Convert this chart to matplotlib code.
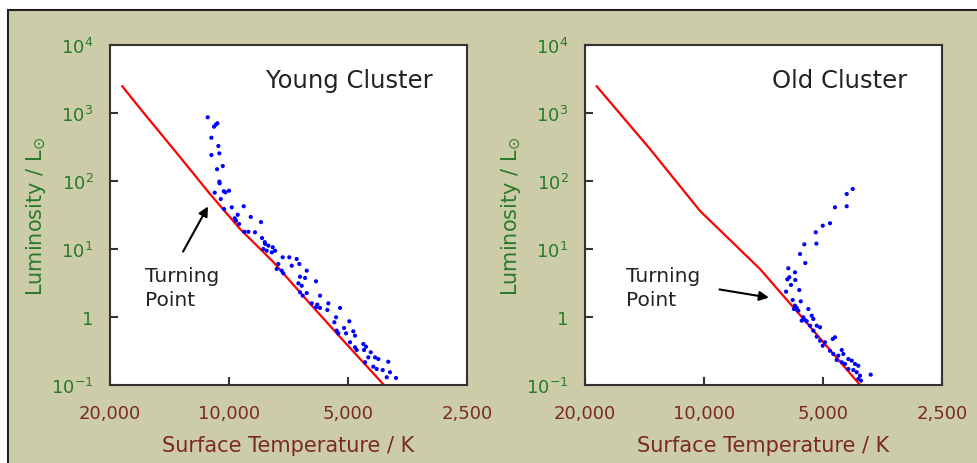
import matplotlib
matplotlib.use("Agg")
import matplotlib.pyplot as plt
from matplotlib.patches import Rectangle

# main-sequence lines (temperature K, luminosity L_sun)
young_line_temp = [18620, 16480, 13560, 11170, 9378, 7726, 6360, 5238, 4055]
young_line_lum = [2470, 1023, 258, 64.4, 19.7, 6.44, 1.78, 0.508, 0.1]

old_line_temp = [18680, 13700, 10230, 7216, 5716, 4030]
old_line_lum = [2470, 296, 36.2, 5.08, 1.07, 0.1]

# cluster stars
young_star_temp = [11320, 10910, 10800, 10700, 11080, 10640, 11080, 10580, 10370, 10720,
                   10580, 10560, 10870, 10310, 10210, 10000, 10490, 10290, 9840, 9180,
                   9505, 9670, 8810, 9600, 9430, 8300, 9145, 8935, 8595, 8250,
                   8120, 7950, 7750, 7645, 8190, 8105, 7795, 8030,
                   7315, 7040, 6742, 7505, 6940, 6640, 7575, 7357, 7290, 6360,
                   6612, 6420, 6025, 6676, 6546, 6612, 6360, 6510, 5885, 6176,
                   5980, 6025, 5607, 5885, 5640, 5237, 5360, 5414, 5117, 4962,
                   5340, 5290, 5057, 4848, 4800, 4941, 4800, 4753, 4573, 4502,
                   4554, 4380, 4442, 4272, 4191, 4528, 4314, 4230, 4085, 3954,
                   3915, 3990, 3780]
young_star_lum = [865, 629, 673, 706, 433, 327, 241, 255, 166, 149,
                  98, 92.5, 67.3, 70.6, 68.2, 72, 54.3, 38.7, 41, 42.5,
                  31.9, 28.3, 29.6, 26.1, 23.3, 24.9, 17.9, 17.9, 17.6, 14.5,
                  12.6, 11.2, 10.6, 9.44, 10, 11.9, 8.9, 9.44,
                  7.55, 7.55, 7.13, 6.02, 5.68, 6.02, 5.08, 4.80, 4.39, 4.80,
                  3.91, 3.75, 3.35, 3.13, 2.88, 2.31, 2.25, 2.06, 2.06, 1.59,
                  1.52, 1.39, 1.59, 1.36, 1.27, 1.36, 0.99, 0.836, 0.689, 0.865,
                  0.63, 0.575, 0.575, 0.616, 0.531, 0.425, 0.358, 0.327, 0.401, 0.366,
                  0.327, 0.303, 0.255, 0.255, 0.241, 0.216, 0.186, 0.172, 0.166, 0.22,
                  0.154, 0.13, 0.127]

old_star_temp = [4205, 4355, 4355, 4663, 4800, 5008, 5216, 5575, 5197, 5716,
                 5543, 6119, 5887, 6084, 6154, 5875, 6025, 6200, 5741, 5966,
                 5692, 5887, 5829, 5921, 5774, 5446, 5609, 5553, 5660, 5498,
                 5340, 5290, 5392, 5186, 5087, 5290, 5186, 5087, 4943, 5008,
                 4725, 4663, 4800, 4709, 4573, 4483, 4443, 4617, 4483, 4398,
                 4314, 4230, 4150, 4071, 4314, 4191, 4109, 4030, 4071, 3787,
                 4007]
old_star_lum = [76.3, 64.4, 42.5, 41, 23.9, 22, 17.6, 11.7, 12.0, 8.44,
                6.22, 5.2, 4.54, 3.84, 3.58, 3.5, 2.96, 2.36, 2.49, 1.78,
                1.70, 1.47, 1.36, 1.31, 1.24, 1.31, 0.99, 0.903, 0.883, 0.865,
                1.045, 0.935, 0.745, 0.745, 0.706, 0.63, 0.513, 0.448, 0.425, 0.378,
                0.475, 0.503, 0.319, 0.286, 0.27, 0.327, 0.286, 0.233, 0.216, 0.204,
                0.241, 0.228, 0.204, 0.192, 0.172, 0.166, 0.154, 0.137, 0.123, 0.142,
                0.116]

x_ticks = [20000, 10000, 5000, 2500]
x_ticklabels = ["20,000", "10,000", "5,000", "2,500"]
y_ticks = [0.1, 1, 10, 100, 1000, 10000]
y_ticklabels = [r"$10^{-1}$", "1", r"$10^{1}$", r"$10^{2}$", r"$10^{3}$", r"$10^{4}$"]

GREEN = "#2a7a2a"
BROWN = "#7a2a26"
TAN = "#cccca8"
FRAME = "#333333"

fig = plt.figure(figsize=(9.77, 4.64), dpi=100)
fig.add_artist(Rectangle((8 / 977, -0.02), 1.0, 0.9763 + 0.02, transform=fig.transFigure,
                         facecolor=TAN, edgecolor="#222222", linewidth=1.5, zorder=0))


def setup_panel(ax, title):
    ax.set_xscale("log")
    ax.set_yscale("log")
    ax.set_xlim(20000, 2500)
    ax.set_ylim(0.1, 10000)
    ax.set_facecolor("white")
    ax.set_xticks(x_ticks)
    ax.set_xticklabels(x_ticklabels)
    ax.set_yticks(y_ticks)
    ax.set_yticklabels(y_ticklabels)
    ax.minorticks_off()
    ax.tick_params(direction="in", length=6, width=1.5, color=FRAME, labelsize=13)
    ax.tick_params(axis="x", labelcolor=BROWN, pad=14)
    ax.tick_params(axis="y", labelcolor=GREEN, pad=12)
    for sp in ax.spines.values():
        sp.set_linewidth(1.5)
        sp.set_color(FRAME)
    ax.set_xlabel("Surface Temperature / K", color=BROWN, fontsize=15, labelpad=9)
    ax.set_ylabel(r"Luminosity / L$_{\odot}$", color=GREEN, fontsize=15, labelpad=2)
    ax.text(0.903, 0.876, title, transform=ax.transAxes, ha="right", va="baseline",
            fontsize=17.5, color="#222222")


ax1 = fig.add_axes([110 / 977, 78 / 464, 357 / 977, 340 / 464])
ax2 = fig.add_axes([585 / 977, 78 / 464, 357 / 977, 340 / 464])

setup_panel(ax1, "Young Cluster")
ax1.plot(young_line_temp, young_line_lum, color="#ff0000", lw=1.6, zorder=2)
ax1.scatter(young_star_temp, young_star_lum, s=9, color="#0000ff", edgecolors="none", zorder=3)
ax1.annotate("", xy=(11215, 45.9), xytext=(13170, 8.44),
             arrowprops=dict(arrowstyle="-|>", color="black", lw=1.5, mutation_scale=14))
ax1.text(16320, 5.6, "Turning\nPoint", ha="left", va="top", fontsize=14.5,
         color="#222222", linespacing=1.3)

setup_panel(ax2, "Old Cluster")
ax2.plot(old_line_temp, old_line_lum, color="#ff0000", lw=1.6, zorder=2)
ax2.scatter(old_star_temp, old_star_lum, s=9, color="#0000ff", edgecolors="none", zorder=3)
ax2.annotate("", xy=(6742, 1.9), xytext=(9285, 2.58),
             arrowprops=dict(arrowstyle="-|>", color="black", lw=1.5, mutation_scale=14))
ax2.text(15750, 5.6, "Turning\nPoint", ha="left", va="top", fontsize=14.5,
         color="#222222", linespacing=1.3)

fig.savefig("out.png", dpi=100)
